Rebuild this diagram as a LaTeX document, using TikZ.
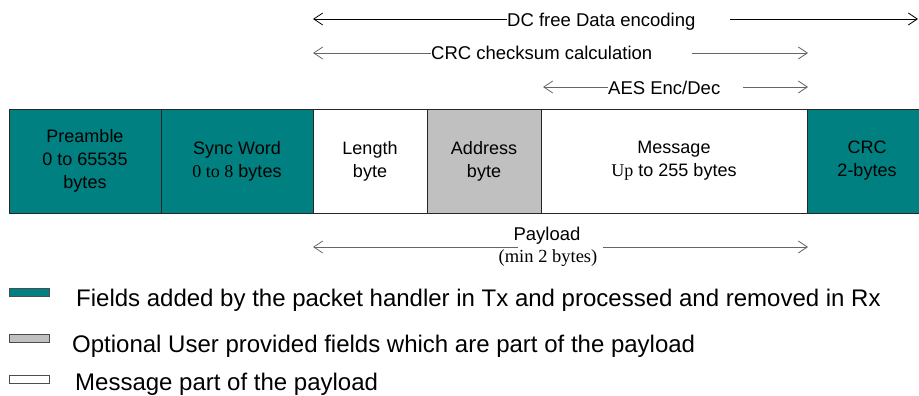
\documentclass[tikz,border=0pt]{standalone}
\usepackage{fontspec}
\setmainfont{Liberation Sans}
\newfontfamily\tnr{Liberation Serif}
\usetikzlibrary{arrows.meta,positioning}
\definecolor{pkteal}{RGB}{0,128,128}
\definecolor{pkgray}{RGB}{192,192,192}

\begin{document}
\begin{tikzpicture}[x=1pt,y=-1pt]
			\tikzstyle{Field}	= [rectangle, draw=black!85, line width=0.9pt, minimum height=104pt, inner sep=0pt, align=center, font=\fontsize{18}{23}\selectfont]
			\tikzstyle{Added}	= [fill=pkteal]
			\tikzstyle{Optional}	= [fill=pkgray]
			\tikzstyle{Plain}	= [fill=white]
			\tikzstyle{Span}	= [line width=0.8pt, black!60, -{Straight Barb[length=9pt,width=12pt]}]
			\tikzstyle{SpanText}	= [inner sep=0pt, font=\fontsize{18.5}{23}\selectfont]
			\tikzstyle{Key}		= [rectangle, draw=black!70, line width=0.8pt, minimum width=40pt, minimum height=8pt, inner sep=0pt]
			\tikzstyle{KeyText}	= [inner sep=0pt, anchor=base west, font=\fontsize{24}{28}\selectfont]

			\useasboundingbox (0,0) rectangle (919,396);

			% packet fields
			\node (pre) at (85,161) [Field][Added][minimum width=152pt] {Preamble\\0 to 65535\\bytes};
			\node (sync) at (237,161) [Field][Added][minimum width=152pt] {Sync Word\\{\tnr 0 to 8} bytes};
			\node (len) at (370,161) [Field][Plain][minimum width=114pt] {Length\\byte};
			\node (addr) at (484,161) [Field][Optional][minimum width=114pt] {Address\\byte};
			\node (msg) at (674,161) [Field][Plain][minimum width=266pt] {Message\\{\tnr Up} to 255 bytes};
			\node (crc) at (867,161) [Field][Added][minimum width=120pt] {CRC\\2-bytes};

			% spans above the packet
			\node (dc) at (507,27) [SpanText, anchor=base west] {DC free Data encoding};
			\coordinate (dcL) at (313,19);
			\coordinate (dcR0) at (730,19);
			\coordinate (dcR) at (918,19);
			\draw [Span, black] (dcL -| dc.west) to (dcL);
			\draw [Span, black] (dcR0) to (dcR);

			\node (chk) at (431,60) [SpanText, anchor=base west] {CRC checksum calculation};
			\coordinate (chkL) at (313,53);
			\coordinate (chkR0) at (692,53);
			\coordinate (chkR) at (808,53);
			\draw [Span] (chkL -| chk.west) to (chkL);
			\draw [Span] (chkR0) to (chkR);

			\node (aes) at (608,95) [SpanText, anchor=base west] {AES Enc/Dec};
			\coordinate (aesL) at (543,87);
			\coordinate (aesR0) at (743,87);
			\coordinate (aesR) at (808,87);
			\draw [Span] (aesL -| aes.west) to (aesL);
			\draw [Span] (aesR0) to (aesR);

			% payload span
			\node (pay) at (547,240) [SpanText, anchor=base] {Payload};
			\node (paymin) at (548,262) [SpanText, anchor=base] {\tnr (min 2 bytes)};
			\coordinate (payL) at (313,247);
			\coordinate (payL0) at (518,247);
			\coordinate (payR0) at (603,247);
			\coordinate (payR) at (808,247);
			\draw [Span] (payL0) to (payL);
			\draw [Span] (payR0) to (payR);

			% legend
			\node (k1) at (29,292) [Key][Added] {};
			\node (k2) at (29,338.5) [Key][Optional] {};
			\node (k3) at (29,379.5) [Key][Plain] {};
			\node (t1) at (76,306) [KeyText] {Fields added by the packet handler in Tx and processed and removed in Rx};
			\node (t2) at (72,352) [KeyText] {Optional User provided fields which are part of the payload};
			\node (t3) at (75,390.5) [KeyText] {Message part of the payload};
		\end{tikzpicture}
\end{document}
